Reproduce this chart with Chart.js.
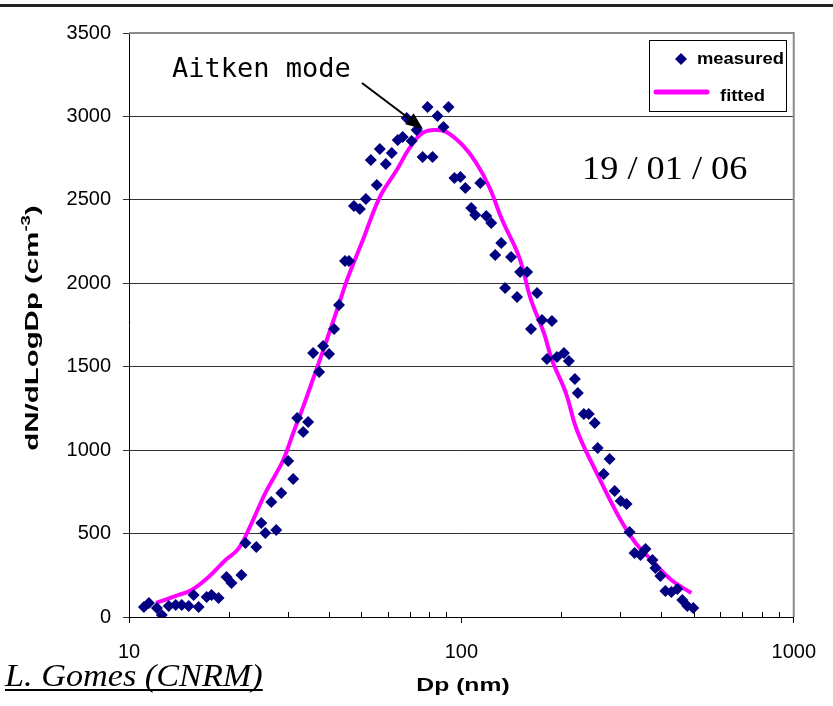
<!DOCTYPE html>
<html>
<head>
<meta charset="utf-8">
<script src="https://cdn.jsdelivr.net/npm/chart.js@4.4.0/dist/chart.umd.min.js"></script>
<style>
html, body { margin: 0; padding: 0; background: #fff; }
</style>
</head>
<body>
<canvas id="sizeChart" width="833" height="706"></canvas>
<script>
// measured size distribution (Dp in nm, dN/dLogDp in cm-3)
const measuredDp = [11.09, 11.48, 12.13, 12.55, 13.17, 13.82, 14.41, 15.12, 15.65, 16.2,
    17.12, 17.72, 18.6, 19.65, 20.34, 21.79, 22.4, 24.16, 25.01, 25.71,
    27.74, 26.8, 28.72, 31.19, 30.13, 32.06, 33.42, 34.59, 35.81, 37.32,
    38.36, 39.99, 41.39, 42.84, 44.65, 45.9, 47.51, 49.51, 51.61, 53.41,
    55.67, 56.83, 59.24, 61.73, 64.34, 66.6, 68.45, 70.86, 73.35, 76.44,
    79.12, 81.9, 84.76, 88.35, 91.45, 95.29, 99.31, 102.8, 107.1, 110.1,
    114.0, 118.8, 123.0, 126.4, 131.8, 135.4, 141.1, 147.1, 150.2, 157.6,
    162.0, 168.9, 174.8, 180.9, 187.3, 193.9, 203.5, 210.6, 219.5, 224.0,
    233.5, 241.7, 251.9, 257.1, 268.0, 279.3, 289.2, 301.4, 314.1, 320.7,
    331.9, 345.9, 358.0, 375.7, 383.5, 397.0, 411.0, 428.3, 446.4, 462.1,
    478.4, 498.5];
const measuredN = [60, 84, 54, 12, 66, 72, 72, 66, 132, 60,
    120, 132, 114, 240, 204, 252, 443, 420, 563, 503,
    521, 689, 743, 827, 935, 1193, 1109, 1169, 1582, 1468,
    1624, 1576, 1726, 1870, 2134, 2134, 2463, 2445, 2505, 2739,
    2589, 2805, 2715, 2781, 2859, 2877, 2991, 2853, 2919, 2757,
    3056, 2757, 3003, 2937, 3056, 2631, 2637, 2571, 2451, 2409,
    2601, 2403, 2361, 2169, 2241, 1972, 2157, 1918, 2068, 2068,
    1726, 1942, 1780, 1546, 1774, 1558, 1582, 1534, 1426, 1342,
    1217, 1217, 1163, 1013, 857, 947, 755, 695, 677, 509,
    384, 372, 408, 342, 294, 246, 156, 150, 168, 102,
    66, 54];

// fitted lognormal mode
const fittedDp = [12.05, 14.11, 15.44, 17.36, 19.52, 21.35, 23.35, 25.71, 29.11, 31.19,
    33.42, 36.31, 38.89, 42.55, 45.27, 50.53, 56.83, 63.9, 69.89, 76.44,
    84.18, 90.19, 100.7, 110.9, 121.3, 132.7, 149.2, 162.0, 177.2, 187.3,
    206.3, 222.5, 255.4, 301.4, 334.2, 373.2, 428.3, 491.6];
const fittedN = [84, 132, 162, 240, 342, 410, 560, 743, 941, 1103,
    1259, 1462, 1630, 1858, 2020, 2259, 2517, 2679, 2811, 2901,
    2919, 2907, 2829, 2721, 2577, 2379, 2157, 1900, 1702, 1540,
    1342, 1121, 863, 581, 443, 342, 222, 144];

const xTickValues = [10, 100, 1000];
const yMin = 0, yMax = 3500, yStep = 500;

const navy = '#000080';
const magenta = '#ff00ff';
const sans = '"Liberation Sans", Arial, sans-serif';
const serif = '"Liberation Serif", "Times New Roman", serif';

// text drawn a bit wider than the font, like the original slide
function wideText(ctx, text, x, y, sx) {
    ctx.save();
    ctx.translate(x, y);
    ctx.scale(sx, 1);
    ctx.fillText(text, 0, 0);
    ctx.restore();
}

// decorations: frame, minor ticks, legend box, notes
const extras = {
    id: 'extras',
    afterDraw(chart) {
        const ctx = chart.ctx;
        const area = chart.chartArea;
        const xs = chart.scales.x;
        ctx.save();

        // top rule of the slide
        ctx.fillStyle = '#222';
        ctx.fillRect(0, 4, 833, 3);

        // plot area frame (top + right)
        ctx.strokeStyle = '#8a8a8a';
        ctx.lineWidth = 2;
        ctx.beginPath();
        ctx.moveTo(area.left, area.top);
        ctx.lineTo(area.right, area.top);
        ctx.lineTo(area.right, area.bottom);
        ctx.stroke();

        // minor log ticks, pointing inside
        ctx.strokeStyle = '#000';
        ctx.lineWidth = 1;
        for (let d = 10; d < 1000; d *= 10) {
            for (let k = 2; k <= 9; k++) {
                const px = Math.round(xs.getPixelForValue(d * k)) + 0.5;
                ctx.beginPath();
                ctx.moveTo(px, area.bottom);
                ctx.lineTo(px, area.bottom - 5);
                ctx.stroke();
            }
        }

        // axis titles
        ctx.fillStyle = '#000';
        ctx.textBaseline = 'middle';
        ctx.textAlign = 'left';
        ctx.font = 'bold 19px ' + sans;
        const xt = 'Dp (nm)';
        const xtw = ctx.measureText(xt).width * 1.3;
        wideText(ctx, xt, 463 - xtw / 2, 686, 1.3);

        ctx.save();
        ctx.translate(33, 328);
        ctx.rotate(-Math.PI / 2);
        ctx.scale(1.55, 1);
        const t1 = 'dN/dLogDp (cm';
        ctx.font = 'bold 19px ' + sans;
        const w1 = ctx.measureText(t1).width;
        ctx.font = 'bold 12px ' + sans;
        const w2 = ctx.measureText('-3').width;
        ctx.font = 'bold 19px ' + sans;
        const w3 = ctx.measureText(')').width;
        const sx = -(w1 + w2 + w3) / 2;
        ctx.fillText(t1, sx, 0);
        ctx.font = 'bold 12px ' + sans;
        ctx.fillText('-3', sx + w1, -6);
        ctx.font = 'bold 19px ' + sans;
        ctx.fillText(')', sx + w1 + w2, 0);
        ctx.restore();

        // legend
        ctx.strokeStyle = '#000';
        ctx.lineWidth = 1;
        ctx.strokeRect(649.5, 40.5, 137, 71);
        ctx.fillStyle = navy;
        ctx.beginPath();
        ctx.moveTo(681, 53); ctx.lineTo(687, 59); ctx.lineTo(681, 65); ctx.lineTo(675, 59);
        ctx.closePath();
        ctx.fill();
        ctx.fillStyle = '#000';
        ctx.font = 'bold 16px ' + sans;
        wideText(ctx, 'measured', 697, 60, 1.15);
        ctx.strokeStyle = magenta;
        ctx.lineWidth = 5;
        ctx.lineCap = 'round';
        ctx.beginPath();
        ctx.moveTo(656, 92);
        ctx.lineTo(707, 92);
        ctx.stroke();
        wideText(ctx, 'fitted', 720, 97, 1.15);

        // annotation
        ctx.font = '27px "DejaVu Sans Mono", monospace';
        ctx.fillText('Aitken mode', 172, 70);
        ctx.strokeStyle = '#000';
        ctx.lineWidth = 2;
        ctx.lineCap = 'butt';
        const ax0 = 362, ay0 = 83, ax1 = 423, ay1 = 129;
        const ang = Math.atan2(ay1 - ay0, ax1 - ax0);
        ctx.beginPath();
        ctx.moveTo(ax0, ay0);
        ctx.lineTo(ax1 - 12 * Math.cos(ang), ay1 - 12 * Math.sin(ang));
        ctx.stroke();
        ctx.beginPath();
        ctx.moveTo(ax1, ay1);
        ctx.lineTo(ax1 - 17 * Math.cos(ang) + 7 * Math.sin(ang), ay1 - 17 * Math.sin(ang) - 7 * Math.cos(ang));
        ctx.lineTo(ax1 - 17 * Math.cos(ang) - 7 * Math.sin(ang), ay1 - 17 * Math.sin(ang) + 7 * Math.cos(ang));
        ctx.closePath();
        ctx.fill();

        // date
        ctx.font = '33px ' + serif;
        wideText(ctx, '19 / 01 / 06', 582, 170, 1.1);

        // credit
        ctx.font = 'italic 32px ' + serif;
        ctx.textBaseline = 'alphabetic';
        wideText(ctx, 'L. Gomes (CNRM)', 5, 686, 1.07);
        const cw = ctx.measureText('L. Gomes (CNRM)').width * 1.07;
        ctx.fillRect(5, 689, cw, 2);

        ctx.restore();
    }
};

const ctx = document.getElementById('sizeChart').getContext('2d');
new Chart(ctx, {
    type: 'scatter',
    data: {
        datasets: [{
            label: 'fitted',
            data: fittedDp.map((d, i) => ({ x: d, y: fittedN[i] })),
            showLine: true,
            borderColor: magenta,
            borderWidth: 4,
            pointRadius: 0,
            tension: 0.4,
            order: 2
        }, {
            label: 'measured',
            data: measuredDp.map((d, i) => ({ x: d, y: measuredN[i] })),
            pointStyle: 'rectRot',
            pointRadius: 6,
            pointBackgroundColor: navy,
            pointBorderColor: navy,
            pointBorderWidth: 0,
            order: 1
        }]
    },
    options: {
        responsive: false,
        animation: false,
        layout: { padding: { left: 0, top: 33, right: 36, bottom: 0 } },
        plugins: {
            legend: { display: false },
            tooltip: { enabled: false }
        },
        scales: {
            x: {
                type: 'logarithmic',
                min: 10,
                max: 1000,
                afterBuildTicks: (scale) => {
                    scale.ticks = xTickValues.map(v => ({ value: v }));
                },
                afterFit: (scale) => { scale.height = 89; },
                ticks: {
                    autoSkip: false,
                    maxRotation: 0,
                    padding: 17,
                    color: '#000',
                    font: { family: sans, size: 20 },
                    callback: (v) => String(v)
                },
                grid: { drawOnChartArea: false, tickLength: 6, color: '#000' },
                border: { color: '#000', width: 1 }
            },
            y: {
                min: yMin,
                max: yMax,
                afterFit: (scale) => { scale.width = 129; },
                ticks: {
                    stepSize: yStep,
                    padding: 12,
                    color: '#000',
                    font: { family: sans, size: 20 },
                    callback: (v) => String(v)
                },
                grid: { color: '#333', tickLength: 6 },
                border: { color: '#000', width: 1 }
            }
        }
    },
    plugins: [extras]
});
</script>
</body>
</html>
